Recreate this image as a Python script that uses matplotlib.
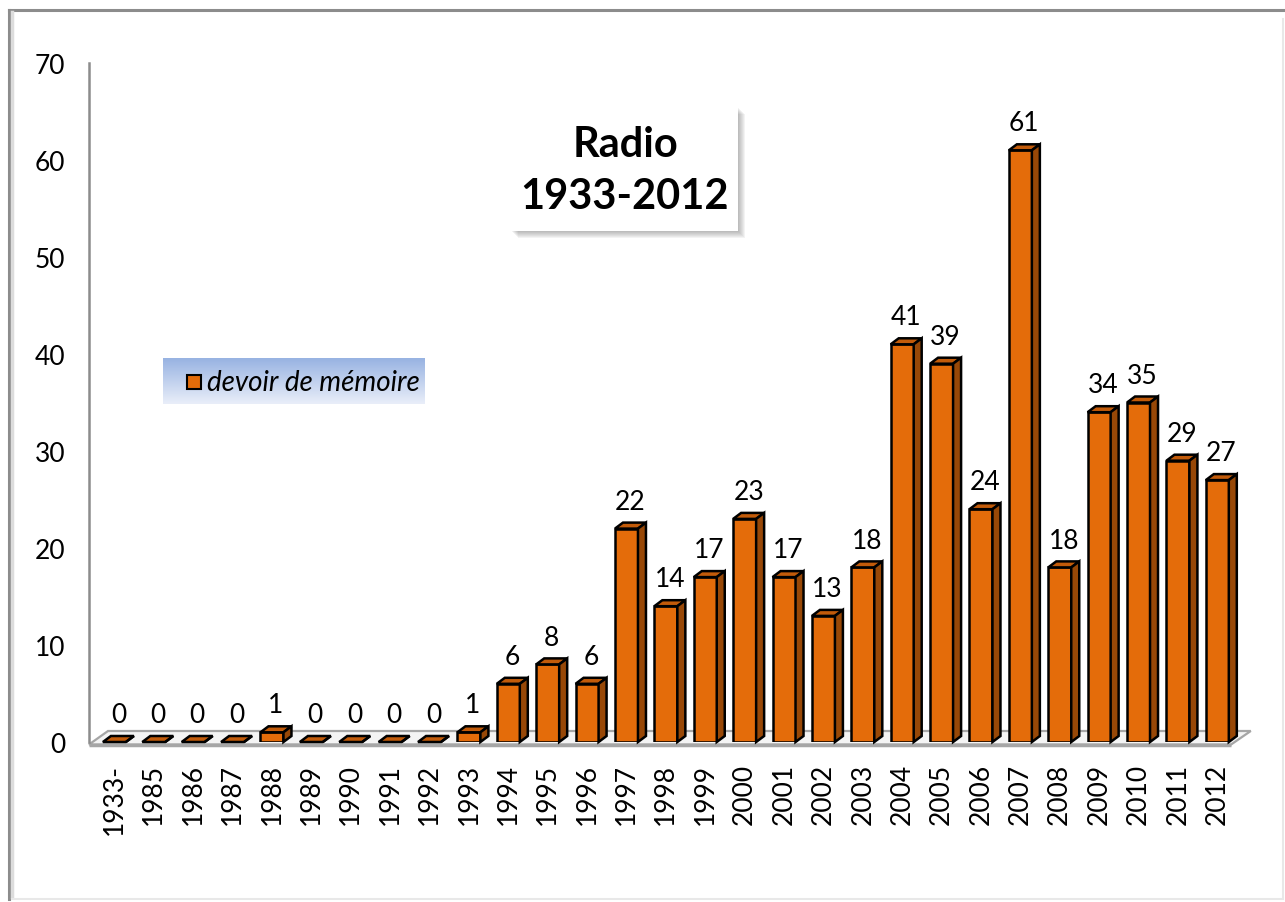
import matplotlib

matplotlib.use("Agg")
import matplotlib.pyplot as plt
import numpy as np
from matplotlib.colors import LinearSegmentedColormap
from matplotlib.lines import Line2D
from matplotlib.patches import Polygon, Rectangle

categories = ["1933-", "1985", "1986", "1987", "1988", "1989", "1990", "1991",
              "1992", "1993", "1994", "1995", "1996", "1997", "1998", "1999",
              "2000", "2001", "2002", "2003", "2004", "2005", "2006", "2007",
              "2008", "2009", "2010", "2011", "2012"]
values = [0, 0, 0, 0, 1, 0, 0, 0, 0, 1, 6, 8, 6, 22, 14, 17, 23, 17, 13, 18,
          41, 39, 24, 61, 18, 34, 35, 29, 27]
y_ticks = [0, 10, 20, 30, 40, 50, 60, 70]
series_name = "devoir de mémoire"
title_text = "Radio\n1933-2012"

FRONT = "#E46C0A"
TOP = "#C25B0A"
SIDE = "#984807"
FONT = "Lato"

W, H = 1285, 903
plt.rcParams["font.family"] = [FONT, "DejaVu Sans"]


def fx(px):
    return px / W


def fy(py):
    return 1 - py / H


fig = plt.figure(figsize=(W / 100, H / 100), dpi=100)

# outer frame (dark top/left, faint right/bottom)
fig.add_artist(Line2D([fx(9), fx(9)], [fy(11), fy(900)], color="#8c8c8c", lw=2.2))
fig.add_artist(Line2D([fx(9), fx(1290)], [fy(11), fy(11)], color="#8c8c8c", lw=2.2))
fig.add_artist(Line2D([fx(12), fx(12)], [fy(13), fy(898)], color="#dcdcdc", lw=2.5))
fig.add_artist(Line2D([fx(1283), fx(1283)], [fy(20), fy(900)], color="#e8e8e8", lw=1.5))
fig.add_artist(Line2D([fx(12), fx(1283)], [fy(900), fy(900)], color="#e8e8e8", lw=1.5))

x_left, x_right = 89, 1237
ax = fig.add_axes([fx(x_left), fy(743), fx(x_right) - fx(x_left), fy(64) - fy(743)])
n = len(values)
xlo, xhi = -0.645, n - 0.5
ax.set_xlim(xlo, xhi)
ax.set_ylim(0, 70)
ax.patch.set_alpha(0)

px_x = (x_right - x_left) / (xhi - xlo)
px_y = (743 - 64) / 70.0
dx = 8 / px_x
dy = 6 / px_y
bw = 23 / px_x

# floor
f_front = -2.5 / px_y
f_back = 11 / px_y
floor = Polygon([(xlo, f_front), (xlo + 19 / px_x, f_back),
                 (n - 1 + 0.85, f_back), (n - 1 + 0.35, f_front)],
                closed=True, facecolor="#f4f4f4", edgecolor="#a6a6a6",
                lw=1.6, zorder=1, clip_on=False)
ax.add_patch(floor)
ax.plot([xlo, n - 1 + 0.35], [f_front, f_front], color="#a6a6a6", lw=2.5,
        zorder=1, clip_on=False, solid_capstyle="butt")

x = np.arange(n)
ax.bar(x, values, width=bw, color=FRONT, edgecolor="black", linewidth=1.8, zorder=3)
for xi, v in zip(x, values):
    l, r = xi - bw / 2, xi + bw / 2
    ax.add_patch(Polygon([(l, v), (l + dx, v + dy), (r + dx, v + dy), (r, v)],
                         closed=True, facecolor=TOP, edgecolor="black", lw=1.8,
                         zorder=3, clip_on=False))
    ax.add_patch(Polygon([(r, 0), (r, v), (r + dx, v + dy), (r + dx, dy)],
                         closed=True, facecolor=SIDE, edgecolor="black", lw=1.8,
                         zorder=3, clip_on=False))
    ax.annotate(str(v), xy=(xi + dx / 2, v + dy), xytext=(0, 10),
                textcoords="offset points", ha="center", va="baseline",
                fontsize=19, color="black", annotation_clip=False)

for side in ["top", "right", "bottom"]:
    ax.spines[side].set_visible(False)
ax.spines["left"].set_color("#8c8c8c")
ax.spines["left"].set_linewidth(1.8)

ax.set_yticks(y_ticks)
ax.set_yticklabels([str(t) for t in y_ticks], fontsize=19)
ax.tick_params(axis="y", length=0, pad=17)
ax.set_xticks(x)
ax.set_xticklabels(categories, rotation=90, fontsize=19, va="top", ha="center")
ax.tick_params(axis="x", length=0, pad=15)

# title box with soft shadow
tb_l, tb_t, tb_r, tb_b = 511, 108, 738, 232
for k in range(1, 8):
    fig.add_artist(Rectangle((fx(tb_l + k), fy(tb_b + k)), fx(tb_r) - fx(tb_l),
                             fy(tb_t) - fy(tb_b), transform=fig.transFigure,
                             facecolor="#606060", edgecolor="none", alpha=0.07))
fig.add_artist(Rectangle((fx(tb_l), fy(tb_b)), fx(tb_r) - fx(tb_l), fy(tb_t) - fy(tb_b),
                         transform=fig.transFigure, facecolor="white", edgecolor="none"))
fig.text(fx(625), fy(171), title_text, ha="center", va="center", fontsize=30,
         fontweight="bold", linespacing=1.45)

# legend with blue gradient
lg = fig.add_axes([fx(163), fy(405), fx(425) - fx(163), fy(359) - fy(405)])
cmap = LinearSegmentedColormap.from_list("lg", ["#98B3E2", "#E9EEF9"])
lg.imshow(np.linspace(0, 1, 50).reshape(-1, 1), aspect="auto", cmap=cmap,
          extent=(0, 1, 0, 1), origin="upper")
lg.set_axis_off()
fig.add_artist(Rectangle((fx(187), fy(390)), fx(201) - fx(187), fy(376) - fy(390),
                         transform=fig.transFigure, facecolor=FRONT,
                         edgecolor="black", lw=1.5))
fig.text(fx(207), fy(383), series_name, ha="left", va="center", fontsize=20,
         style="italic")

fig.savefig("out.png", dpi=100)
